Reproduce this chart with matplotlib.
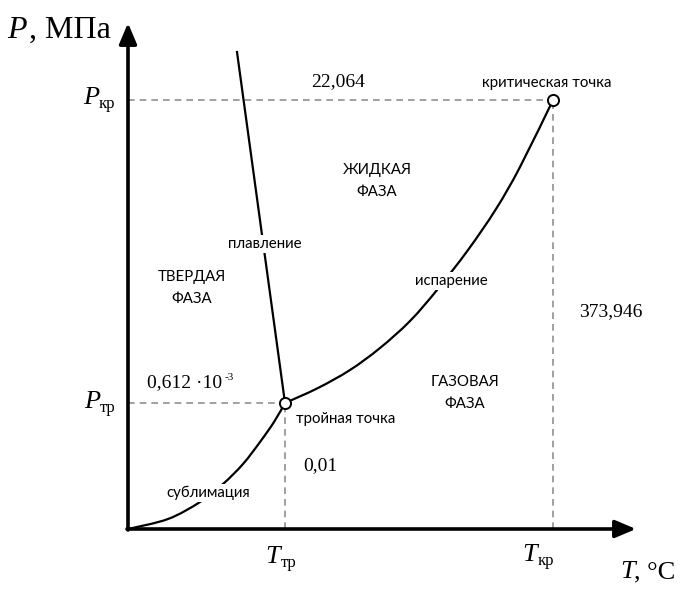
import matplotlib
matplotlib.use("Agg")
import matplotlib.pyplot as plt
from matplotlib.path import Path
from matplotlib.patches import PathPatch
import numpy as np

# ---- schematic data (units: arbitrary diagram units, origin at axes corner) ----
T_tr, P_tr = 157, 126          # triple point
T_kr, P_kr = 425, 429          # critical point

subl_T = [0, 40, 72, 95, 115, 132, 146, 157]
subl_P = [0, 10, 27, 45, 65, 87, 107, 126]

melt_T = [157, 109]
melt_P = [126, 477]

evap_T = [157, 190, 222, 252, 282, 309, 340, 368, 392, 425]
evap_P = [126, 141, 159, 181, 208, 239, 279, 320, 362, 429]

val_Pkr = "22,064"
val_Tkr = "373,946"
val_Ptr = "0,612"
val_Ttr = "0,01"

SERIF = "Liberation Serif"
SANS = "Lato"

fig = plt.figure(figsize=(6.8, 5.89), dpi=100)
ax = fig.add_axes([0, 0, 1, 1])
ax.set_xlim(-128, 552)
ax.set_ylim(-60, 529)
ax.axis("off")

def P(x, y):
    """pixel -> data"""
    return x - 128, 529 - y

def smooth_path(xs, ys):
    """Catmull-Rom through the points, as cubic Bezier segments."""
    pts = np.column_stack([xs, ys]).astype(float)
    n = len(pts)
    verts = [pts[0]]
    codes = [Path.MOVETO]
    for i in range(n - 1):
        p0 = pts[i - 1] if i > 0 else pts[i]
        p1 = pts[i]
        p2 = pts[i + 1]
        p3 = pts[i + 2] if i + 2 < n else pts[i + 1]
        c1 = p1 + (p2 - p0) / 6.0
        c2 = p2 - (p3 - p1) / 6.0
        verts += [c1, c2, p2]
        codes += [Path.CURVE4] * 3
    return Path(verts, codes)

# dashed guides
dash = dict(color="#909090", lw=1.2, ls=(0, (4, 3)), zorder=1)
ax.plot([0, T_kr], [P_kr, P_kr], **dash)
ax.plot([T_kr, T_kr], [0, P_kr], **dash)
ax.plot([0, T_tr], [P_tr, P_tr], **dash)
ax.plot([T_tr, T_tr], [0, P_tr], **dash)

# curves
ax.add_patch(PathPatch(smooth_path(subl_T, subl_P), fill=False, edgecolor="black", lw=1.6, zorder=2))
ax.plot(melt_T, melt_P, color="black", lw=1.6, zorder=2)
ax.add_patch(PathPatch(smooth_path(evap_T, evap_P), fill=False, edgecolor="black", lw=1.6, zorder=2))

# points
ax.plot([T_tr, T_kr], [P_tr, P_kr], "o", ms=8, mfc="white", mec="black", mew=1.4, zorder=5)

# axes with arrows
arr = dict(arrowstyle="-|>,head_length=0.9,head_width=0.38", lw=2.6, color="black",
           mutation_scale=14, shrinkA=0, shrinkB=0)
ax.annotate("", xy=(508, 0), xytext=(-1, 0), arrowprops=arr, zorder=6)
ax.annotate("", xy=(0, 506), xytext=(0, -1), arrowprops=arr, zorder=6)

# curve labels (white boxes hide the curve beneath)
box = dict(facecolor="white", edgecolor="none", pad=1.5)
FS = 10.8
ax.text(*P(265, 244), "плавление", family=SANS, fontsize=FS, ha="center", va="center", bbox=box, zorder=4)
ax.text(*P(451, 281), "испарение", family=SANS, fontsize=FS, ha="center", va="center", bbox=box, zorder=4)
ax.text(*P(208, 493), "сублимация", family=SANS, fontsize=FS, ha="center", va="center", bbox=box, zorder=4)
ax.text(*P(346, 419), "тройная точка", family=SANS, fontsize=FS, ha="center", va="center", zorder=4)
ax.text(*P(547, 83), "критическая точка", family=SANS, fontsize=FS, ha="center", va="center", zorder=4)

# phase labels
for (px, py), lab in [((377, 181), "ЖИДКАЯ\nФАЗА"),
                      ((192, 288), "ТВЕРДАЯ\nФАЗА"),
                      ((465, 393), "ГАЗОВАЯ\nФАЗА")]:
    ax.text(*P(px, py), lab, family=SANS, fontsize=FS, ha="center", va="center",
            multialignment="center", linespacing=1.7)

# numeric values
ax.text(*P(338, 82), val_Pkr, family=SERIF, fontsize=14, ha="center", va="center")
ax.text(*P(611, 312), val_Tkr, family=SERIF, fontsize=14, ha="center", va="center")
ax.text(*P(320, 466), val_Ttr, family=SERIF, fontsize=14, ha="center", va="center")
ax.text(*P(147, 383), val_Ptr + " \u00b710", family=SERIF, fontsize=14, ha="left", va="center")
ax.text(*P(225, 378), "-3", family=SERIF, fontsize=8, ha="left", va="center")

# axis symbol labels
def sym(x, y, letter, sub, size=19, subsize=12):
    ax.text(*P(x, y), letter, family=SERIF, style="italic", fontsize=size, ha="left", va="baseline")
    ax.text(*P(x + size * 0.82, y + 4), sub, family=SERIF, fontsize=subsize, ha="left", va="baseline")

sym(83, 104, "P", "кр")
sym(84, 408, "P", "тр")
sym(265, 563, "T", "тр")
sym(522, 561, "T", "кр")

ax.text(*P(7, 38), "P", family=SERIF, style="italic", fontsize=23, ha="left", va="baseline")
ax.text(*P(29, 38), ", МПа", family=SERIF, fontsize=23, ha="left", va="baseline")
ax.text(*P(620, 578), "T", family=SERIF, style="italic", fontsize=19, ha="left", va="baseline")
ax.text(*P(634, 578), ", °C", family=SERIF, fontsize=19, ha="left", va="baseline")

fig.savefig("out.png", dpi=100)
